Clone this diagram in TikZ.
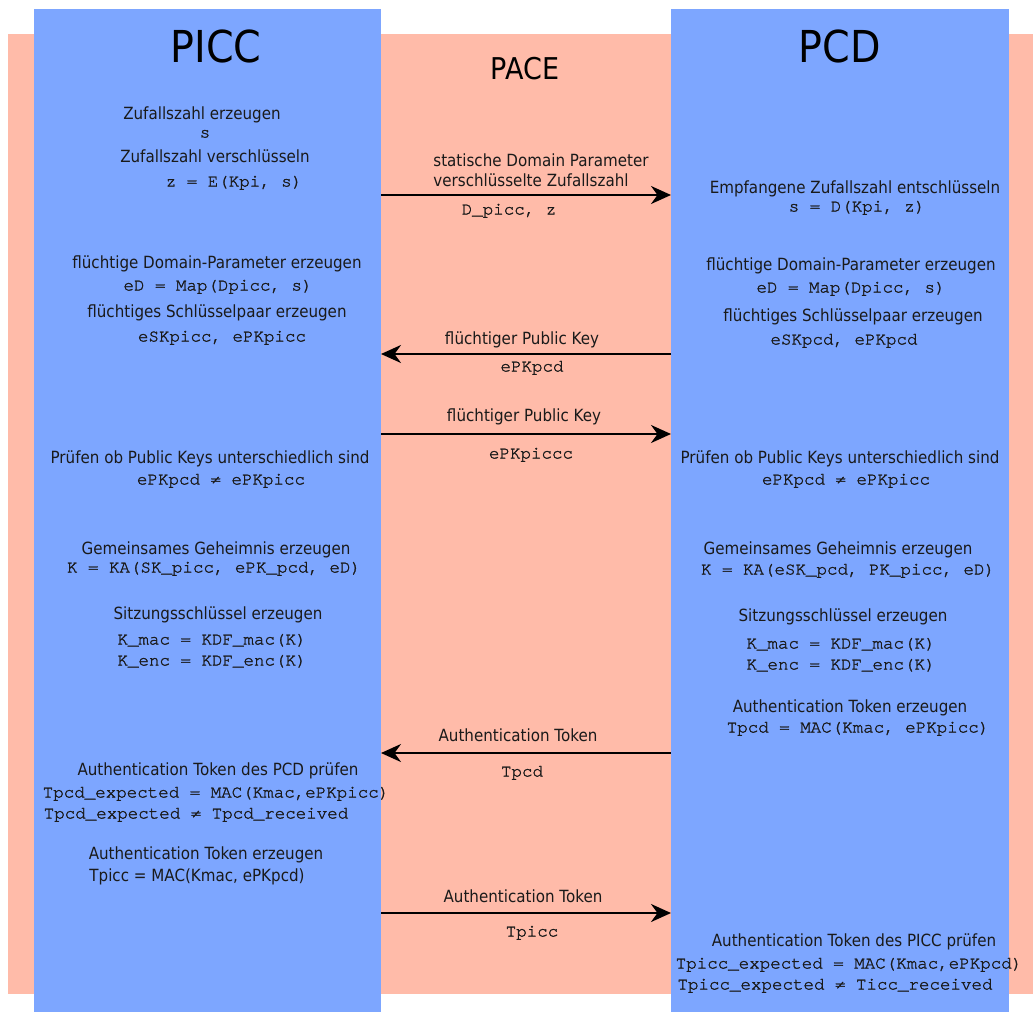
\documentclass[tikz,border=0pt]{standalone}
\usepackage{fontspec}
\setmainfont{DejaVu Sans}[FakeStretch=0.9]
\setmonofont{TeX Gyre Cursor}[FakeBold=1.5]
\usetikzlibrary{arrows.meta}

\definecolor{lanefill}{HTML}{7DA6FF}
\definecolor{pacefill}{HTML}{FFBBA9}
\definecolor{ink}{HTML}{1A1A1A}

\tikzset{
  txt/.style={font=\fontsize{16.8}{19}\selectfont, text=ink, inner sep=0pt, text height=12pt, text depth=4pt},
  code/.style={font=\fontsize{17.5}{20}\selectfont\ttfamily, text=ink, inner sep=0pt, text height=10pt, text depth=3pt},
  lanetitle/.style={font=\fontsize{44}{50}\selectfont, inner sep=0pt},
  pacetitle/.style={font=\fontsize{30}{36}\selectfont, inner sep=0pt},
  msg/.style={line width=2.3pt, -{Stealth[length=20pt,width=18pt,inset=6.5pt]}},
}

\begin{document}
\begin{tikzpicture}[x=1pt,y=-1pt]
  \useasboundingbox (0,0) rectangle (1033,1012);

  % protocol band and the two parties
  \fill[pacefill] (8,34) rectangle (1033,994);
  \fill[lanefill] (34,9) rectangle (381,1012);
  \fill[lanefill] (671,9) rectangle (1009,1012);

  % titles
  \node[lanetitle] (piccT) at (216,46) {PICC};
  \node[lanetitle] (pcdT)  at (840,46) {PCD};
  \node[pacetitle] (paceT) at (525,69) {PACE};

  % ---------- PICC side ----------
  \node[txt]  (l1)  at (202,115) {Zufallszahl erzeugen};
  \node[code] (l2)  at (205,134) {s};
  \node[txt]  (l3)  at (215,158) {Zufallszahl verschlüsseln};
  \node[code] (l4)  at (234,183) {z = E(Kpi, s)};
  \node[txt]  (l5)  at (217,264) {flüchtige Domain-Parameter erzeugen};
  \node[code] (l6)  at (218,287) {eD = Map(Dpicc, s)};
  \node[txt]  (l7)  at (217,313) {flüchtiges Schlüsselpaar erzeugen};
  \node[code] (l8)  at (222,338) {eSKpicc, ePKpicc};
  \node[txt]  (l9)  at (210,459) {Prüfen ob Public Keys unterschiedlich sind};
  \node[code] (l10) at (221,481) {ePKpcd ≠ ePKpicc};
  \node[txt]  (l11) at (216,550) {Gemeinsames Geheimnis erzeugen};
  \node[code] (l12) at (214,569) {K = KA(SK\_picc, ePK\_pcd, eD)};
  \node[txt]  (l13) at (218,615) {Sitzungsschlüssel erzeugen};
  \node[code] (l14) at (212,641) {K\_mac = KDF\_mac(K)};
  \node[code] (l15) at (212,662) {K\_enc = KDF\_enc(K)};
  \node[txt]  (l16) at (218,771) {Authentication Token des PCD prüfen};
  \node[code] (l17) at (216,794) {Tpcd\_expected = MAC(Kmac,ePKpicc)};
  \node[code] (l18) at (196,815) {Tpcd\_expected ≠ Tpcd\_received};
  \node[txt]  (l19) at (206,855) {Authentication Token erzeugen};
  \node[txt]  (l20) at (197,877) {Tpicc = MAC(Kmac, ePKpcd)};

  % ---------- PCD side ----------
  \node[txt]  (r1)  at (855,189) {Empfangene Zufallszahl entschlüsseln};
  \node[code] (r2)  at (857,208) {s = D(Kpi, z)};
  \node[txt]  (r3)  at (851,266) {flüchtige Domain-Parameter erzeugen};
  \node[code] (r4)  at (851,289) {eD = Map(Dpicc, s)};
  \node[txt]  (r5)  at (853,317) {flüchtiges Schlüsselpaar erzeugen};
  \node[code] (r6)  at (844,341) {eSKpcd, ePKpcd};
  \node[txt]  (r7)  at (840,459) {Prüfen ob Public Keys unterschiedlich sind};
  \node[code] (r8)  at (846,481) {ePKpcd ≠ ePKpicc};
  \node[txt]  (r9)  at (838,550) {Gemeinsames Geheimnis erzeugen};
  \node[code] (r10) at (848,571) {K = KA(eSK\_pcd, PK\_picc, eD)};
  \node[txt]  (r11) at (843,617) {Sitzungsschlüssel erzeugen};
  \node[code] (r12) at (841,645) {K\_mac = KDF\_mac(K)};
  \node[code] (r13) at (841,666) {K\_enc = KDF\_enc(K)};
  \node[txt]  (r14) at (850,708) {Authentication Token erzeugen};
  \node[code] (r15) at (858,729) {Tpcd = MAC(Kmac, ePKpicc)};
  \node[txt]  (r16) at (854,942) {Authentication Token des PICC prüfen};
  \node[code] (r17) at (849,965) {Tpicc\_expected = MAC(Kmac,ePKpcd)};
  \node[code] (r18) at (835,986) {Tpicc\_expected ≠ Ticc\_received};

  % ---------- messages ----------
  \foreach \n/\y in {1/195,2/354,3/434,4/753,5/913}{
    \coordinate (a\n) at (381,\y);
    \coordinate (b\n) at (671,\y);
  }

  \node[txt]  (m1a) at (541,162) {statische Domain Parameter};
  \node[txt]  (m1b) at (531,182) {verschlüsselte Zufallszahl};
  \node[code] (m1c) at (509,211) {D\_picc, z};
  \draw[msg] (a1) -- (b1);

  \node[txt]  (m2a) at (522,340) {flüchtiger Public Key};
  \node[code] (m2b) at (532,368) {ePKpcd};
  \draw[msg] (b2) -- (a2);

  \node[txt]  (m3a) at (524,417) {flüchtiger Public Key};
  \node[code] (m3b) at (531,455) {ePKpiccc};
  \draw[msg] (a3) -- (b3);

  \node[txt]  (m4a) at (518,737) {Authentication Token};
  \node[code] (m4b) at (522,773) {Tpcd};
  \draw[msg] (b4) -- (a4);

  \node[txt]  (m5a) at (523,898) {Authentication Token};
  \node[code] (m5b) at (532,933) {Tpicc};
  \draw[msg] (a5) -- (b5);
\end{tikzpicture}
\end{document}
